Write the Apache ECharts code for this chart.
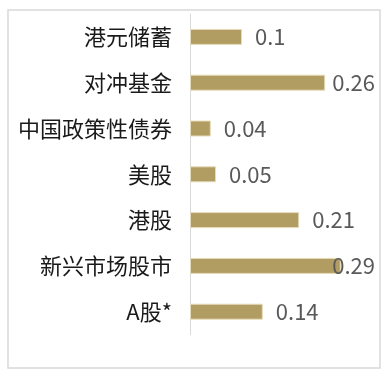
<!DOCTYPE html>
<html>
<head>
<meta charset="utf-8">
<script src="https://cdn.jsdelivr.net/npm/echarts@6/dist/echarts.min.js"></script>
<style>
  html, body { margin: 0; padding: 0; background: #fff; }
  #chart { width: 391px; height: 379px; }
</style>
</head>
<body>
<div id="chart"></div>
<script>
// Asset classes, listed top to bottom
const categories = ['港元储蓄', '对冲基金', '中国政策性债券', '美股', '港股', '新兴市场股市', 'A股*'];
const values = [0.1, 0.26, 0.04, 0.05, 0.21, 0.29, 0.14];

const chart = echarts.init(document.getElementById('chart'));
const font = '"Noto Sans CJK SC", "Noto Sans", sans-serif';
const labelRightLimit = 375;

chart.setOption({
  animation: false,
  backgroundColor: '#ffffff',
  graphic: [{
    type: 'rect',
    shape: { x: 8, y: 10, width: 372, height: 358 },
    style: { fill: 'none', stroke: '#d9d9d9', lineWidth: 1.5 },
    silent: true
  }],
  grid: { left: 190, right: 19, top: 14, bottom: 44.4 },
  xAxis: {
    type: 'value',
    min: 0,
    max: 0.35,
    show: false
  },
  yAxis: {
    type: 'category',
    inverse: true,
    data: categories,
    axisLine: { show: true, lineStyle: { color: '#d9d9d9', width: 1 } },
    axisTick: { show: false },
    axisLabel: {
      color: '#1a1a1a',
      fontSize: 22,
      fontFamily: font,
      margin: 18
    }
  },
  series: [{
    type: 'bar',
    data: values,
    barWidth: 16,
    itemStyle: {
      color: '#b19d62',
      borderColor: '#e6dcbc',
      borderWidth: 1
    },
    label: {
      show: true,
      position: 'right',
      distance: 13,
      color: '#595959',
      fontSize: 22,
      fontFamily: font
    },
    // keep value labels inside the chart frame
    labelLayout: function (p) {
      const over = p.labelRect.x + p.labelRect.width - labelRightLimit;
      return over > 0 ? { dx: -over } : {};
    }
  }]
});
</script>
</body>
</html>
